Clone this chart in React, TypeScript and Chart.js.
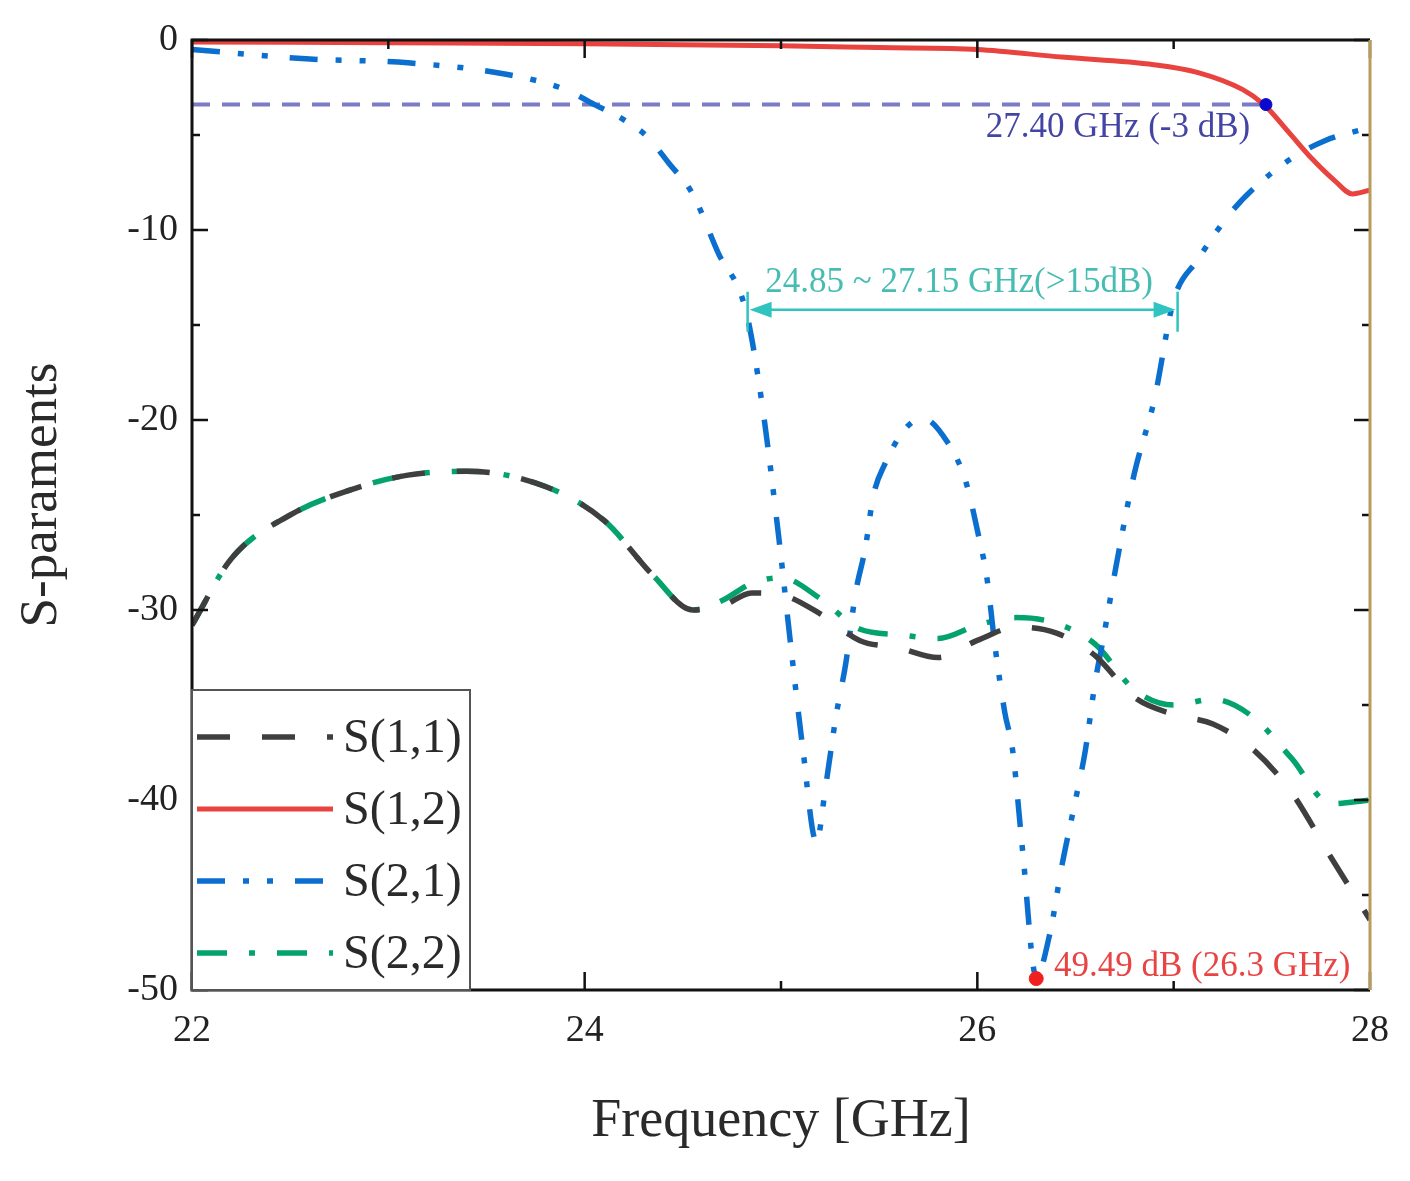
import React, { useEffect, useRef } from 'react';
import { Chart, registerables, Plugin } from 'chart.js';

Chart.register(...registerables);

const FONT = '"Liberation Serif", "DejaVu Serif", serif';

// S(1,1) and S(2,2) were read on the same frequency points
const freqRefl = [22.0, 22.2, 22.5, 22.8, 23.1, 23.4, 23.8, 24.1, 24.35, 24.55, 24.7, 24.85, 25.0, 25.2, 25.4, 25.6, 25.8, 26.0, 26.2, 26.4, 26.6, 26.8, 27.0, 27.2, 27.4, 27.6, 27.8, 28.0];
const s11 = [-30.8, -27.3, -25.0, -23.7, -22.9, -22.7, -23.5, -25.3, -28.2, -30.0, -29.8, -29.1, -29.2, -30.2, -31.6, -32.0, -32.5, -31.6, -30.9, -31.2, -32.4, -34.6, -35.5, -36.0, -37.3, -39.6, -43.0, -46.3];
const s22 = [-30.8, -27.3, -25.0, -23.7, -22.9, -22.7, -23.5, -25.3, -28.2, -30.0, -29.5, -28.6, -28.3, -29.4, -31.0, -31.3, -31.5, -30.8, -30.4, -30.7, -31.8, -34.2, -35.0, -34.7, -35.6, -37.8, -40.2, -40.0];

const freqS12 = [22.0, 23.0, 24.0, 25.0, 25.5, 26.0, 26.43, 26.9, 27.12, 27.35, 27.46, 27.59, 27.7, 27.82, 27.91, 28.0];
const s12 = [-0.1, -0.15, -0.2, -0.3, -0.4, -0.5, -0.9, -1.3, -1.7, -2.6, -3.4, -4.9, -6.2, -7.4, -8.1, -7.9];

const freqS21 = [22.0, 22.6, 23.1, 23.6, 23.9, 24.05, 24.2, 24.32, 24.43, 24.55, 24.68, 24.82, 24.9, 24.99, 25.05, 25.11, 25.18, 25.23, 25.28, 25.33, 25.38, 25.43, 25.47, 25.53, 25.63, 25.72, 25.85, 25.94, 26.0, 26.05, 26.09, 26.14, 26.18, 26.23, 26.3, 26.37, 26.43, 26.5, 26.55, 26.6, 26.64, 26.71, 26.8, 26.9, 27.0, 27.12, 27.29, 27.42, 27.59, 27.77, 28.0];
const s21 = [-0.5, -1.0, -1.2, -1.8, -2.6, -3.4, -4.2, -5.1, -6.5, -8.1, -11.2, -14.2, -18.9, -26.3, -31.9, -37.2, -42.2, -39.1, -35.6, -32.8, -29.1, -26.7, -24.0, -22.3, -20.5, -19.9, -21.2, -23.2, -25.8, -28.4, -31.9, -35.4, -37.4, -42.6, -49.3, -47.0, -43.5, -40.0, -37.4, -33.8, -31.6, -27.5, -22.8, -19.0, -13.7, -11.6, -9.1, -7.7, -6.3, -5.3, -4.6];

const seriesLabels = ['S(1,1)', 'S(1,2)', 'S(2,1)', 'S(2,2)'];

// annotation values
const cutoff = { freq: 27.47, db: -3.4, text: '27.40 GHz (-3 dB)', textFreq: 27.39, textDb: -4.6 };
const notch = { freq: 26.3, db: -49.4, text: '49.49 dB (26.3 GHz)', textFreq: 26.39, textDb: -48.8 };
const band = { from: 24.83, to: 27.02, db: -14.2, text: '24.85 ~ 27.15 GHz(>15dB)', textFreq: 24.92, textDb: -12.8 };

const xMajor = [22, 24, 26, 28];
const yMajor = [0, -10, -20, -30, -40, -50];

const toPoints = (xs: number[], ys: number[]) => xs.map((x, i) => ({ x, y: ys[i] }));

const decorPlugin: Plugin<'line'> = {
  id: 'decor',
  afterDatasetsDraw(chart) {
    const { ctx, chartArea: a } = chart;
    const xs = chart.scales.x;
    const ys = chart.scales.y;
    ctx.save();

    // inward ticks, majors and minors
    ctx.strokeStyle = '#111';
    ctx.lineWidth = 2.5;
    ctx.beginPath();
    xMajor.forEach((v, i) => {
      const px = xs.getPixelForValue(v);
      ctx.moveTo(px, a.bottom); ctx.lineTo(px, a.bottom - 18);
      ctx.moveTo(px, a.top); ctx.lineTo(px, a.top + 18);
      if (i < xMajor.length - 1) {
        const mx = xs.getPixelForValue(v + 1);
        ctx.moveTo(mx, a.bottom); ctx.lineTo(mx, a.bottom - 9);
        ctx.moveTo(mx, a.top); ctx.lineTo(mx, a.top + 9);
      }
    });
    yMajor.forEach((v, i) => {
      const py = ys.getPixelForValue(v);
      ctx.moveTo(a.left, py); ctx.lineTo(a.left + 16, py);
      ctx.moveTo(a.right, py); ctx.lineTo(a.right - 16, py);
      if (i < yMajor.length - 1) {
        const my = ys.getPixelForValue(v - 5);
        ctx.moveTo(a.left, my); ctx.lineTo(a.left + 8, my);
        ctx.moveTo(a.right, my); ctx.lineTo(a.right - 8, my);
      }
    });
    ctx.stroke();

    // frame
    ctx.lineWidth = 3;
    ctx.strokeStyle = '#111';
    ctx.beginPath();
    ctx.moveTo(a.right, a.top); ctx.lineTo(a.left, a.top);
    ctx.lineTo(a.left, a.bottom); ctx.lineTo(a.right, a.bottom);
    ctx.stroke();
    ctx.strokeStyle = '#b89c5c';
    ctx.beginPath();
    ctx.moveTo(a.right, a.top); ctx.lineTo(a.right, a.bottom);
    ctx.stroke();

    // band arrow
    const bx0 = xs.getPixelForValue(band.from);
    const bx1 = xs.getPixelForValue(band.to);
    const by = ys.getPixelForValue(band.db);
    ctx.strokeStyle = '#2fc4bf';
    ctx.fillStyle = '#2fc4bf';
    ctx.lineWidth = 2.5;
    ctx.beginPath();
    ctx.moveTo(bx0 + 10, by); ctx.lineTo(bx1 - 10, by);
    ctx.moveTo(bx0, by - 18); ctx.lineTo(bx0, by + 22);
    ctx.moveTo(bx1, by - 18); ctx.lineTo(bx1, by + 22);
    ctx.stroke();
    ctx.beginPath();
    ctx.moveTo(bx0 + 2, by); ctx.lineTo(bx0 + 24, by - 8); ctx.lineTo(bx0 + 24, by + 8); ctx.closePath();
    ctx.moveTo(bx1 - 2, by); ctx.lineTo(bx1 - 24, by - 8); ctx.lineTo(bx1 - 24, by + 8); ctx.closePath();
    ctx.fill();

    // annotation texts
    ctx.font = `35px ${FONT}`;
    ctx.textBaseline = 'middle';
    ctx.textAlign = 'right';
    ctx.fillStyle = '#4444a4';
    ctx.fillText(cutoff.text, xs.getPixelForValue(cutoff.textFreq), ys.getPixelForValue(cutoff.textDb));
    ctx.textAlign = 'left';
    ctx.fillStyle = '#46bcb3';
    ctx.fillText(band.text, xs.getPixelForValue(band.textFreq), ys.getPixelForValue(band.textDb));
    ctx.fillStyle = '#e84444';
    ctx.fillText(notch.text, xs.getPixelForValue(notch.textFreq), ys.getPixelForValue(notch.textDb));

    // legend box in the lower left corner
    const lw = 278;
    const lh = 300;
    const lx = a.left;
    const ly = a.bottom - lh;
    ctx.fillStyle = '#fff';
    ctx.fillRect(lx, ly, lw, lh);
    ctx.strokeStyle = '#555';
    ctx.lineWidth = 2;
    ctx.strokeRect(lx, ly, lw, lh);
    ctx.font = `48px ${FONT}`;
    ctx.textAlign = 'left';
    chart.data.datasets.slice(0, 4).forEach((ds: any, i) => {
      const cy = ly + 47 + i * 72;
      ctx.setLineDash(ds.borderDash || []);
      ctx.strokeStyle = ds.borderColor;
      ctx.lineWidth = ds.borderWidth;
      ctx.beginPath();
      ctx.moveTo(lx + 5, cy); ctx.lineTo(lx + 141, cy);
      ctx.stroke();
      ctx.setLineDash([]);
      ctx.fillStyle = '#2a2a2a';
      ctx.fillText(ds.label, lx + 151, cy + 2);
    });

    // axis titles
    ctx.fillStyle = '#2a2a2a';
    ctx.font = `54px ${FONT}`;
    ctx.textAlign = 'center';
    ctx.fillText('Frequency [GHz]', (a.left + a.right) / 2, 1122);
    ctx.save();
    ctx.translate(42, (a.top + a.bottom) / 2 - 20);
    ctx.rotate(-Math.PI / 2);
    ctx.font = `53px ${FONT}`;
    ctx.fillText('S-paraments', 0, 0);
    ctx.restore();

    ctx.restore();
  },
};

const SParamChart: React.FC = () => {
  const canvasRef = useRef<HTMLCanvasElement>(null);
  const chartRef = useRef<Chart | null>(null);

  useEffect(() => {
    document.body.style.margin = '0';
    if (!canvasRef.current) return;
    if (chartRef.current) chartRef.current.destroy();

    const curve = { pointRadius: 0, fill: false, cubicInterpolationMode: 'monotone' as const, order: 2 };

    chartRef.current = new Chart(canvasRef.current, {
      type: 'line',
      data: {
        datasets: [
          { ...curve, label: seriesLabels[0], data: toPoints(freqRefl, s11), borderColor: '#3f3f3f', borderWidth: 5.5, borderDash: [33, 32] },
          { ...curve, label: seriesLabels[1], data: toPoints(freqS12, s12), borderColor: '#e8433e', borderWidth: 5 },
          { ...curve, label: seriesLabels[2], data: toPoints(freqS21, s21), borderColor: '#0b6fd0', borderWidth: 5.5, borderDash: [28, 18, 6, 18, 6, 22] },
          { ...curve, label: seriesLabels[3], data: toPoints(freqRefl, s22), borderColor: '#05a36c', borderWidth: 5.5, borderDash: [30, 22, 6, 22] },
          {
            label: '-3 dB',
            data: [{ x: 22, y: cutoff.db }, { x: cutoff.freq, y: cutoff.db }],
            borderColor: '#7b7bc6',
            borderWidth: 4,
            borderDash: [18, 12],
            pointRadius: 0,
            order: 3,
          },
          {
            label: 'cutoff',
            data: [{ x: cutoff.freq, y: cutoff.db }],
            showLine: false,
            pointRadius: 6,
            pointBackgroundColor: '#0a0acc',
            pointBorderColor: '#0a0acc',
            order: 0,
          },
          {
            label: 'notch',
            data: [{ x: notch.freq, y: notch.db }],
            showLine: false,
            pointRadius: 7,
            pointBackgroundColor: '#f02020',
            pointBorderColor: '#f02020',
            order: 0,
          },
        ],
      },
      options: {
        responsive: true,
        maintainAspectRatio: false,
        animation: false,
        layout: { padding: { left: 0, top: 40, right: 40, bottom: 0 } },
        plugins: { legend: { display: false }, tooltip: { enabled: false } },
        scales: {
          x: {
            type: 'linear',
            min: 22,
            max: 28,
            grid: { display: false, drawTicks: false },
            border: { display: false },
            ticks: {
              stepSize: 2,
              padding: 18,
              maxRotation: 0,
              color: '#222',
              font: { family: FONT, size: 38 },
            },
            afterFit: (scale) => { scale.height = 191; },
          },
          y: {
            type: 'linear',
            min: -50,
            max: 0,
            grid: { display: false, drawTicks: false },
            border: { display: false },
            ticks: {
              stepSize: 10,
              padding: 14,
              color: '#222',
              font: { family: FONT, size: 38 },
            },
            afterFit: (scale) => { scale.width = 192; },
          },
        },
      },
      plugins: [decorPlugin],
    });

    return () => {
      if (chartRef.current) {
        chartRef.current.destroy();
        chartRef.current = null;
      }
    };
  }, []);

  return (
    <div style={{ position: 'relative', width: 1410, height: 1181, background: '#fff' }}>
      <canvas ref={canvasRef}></canvas>
    </div>
  );
};

export default function App() {
  return <SParamChart />;
}
